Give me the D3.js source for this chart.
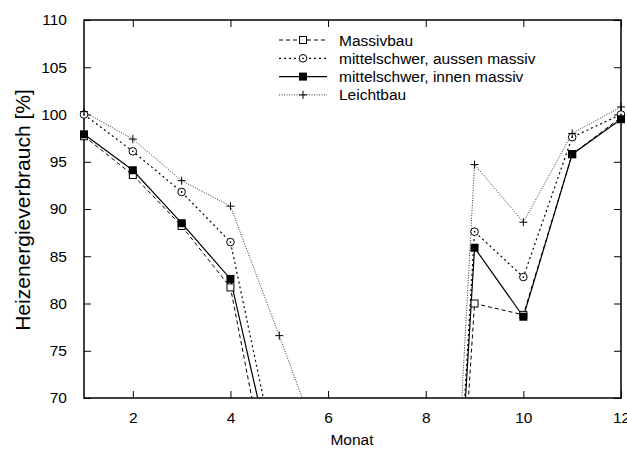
<!DOCTYPE html>
<html><head><meta charset="utf-8">
<script src="https://cdn.jsdelivr.net/npm/d3@7"></script>
<style>body{margin:0;background:#fff}svg{display:block}text{font-family:"Liberation Sans",Arial,sans-serif}</style>
</head><body>
<script>
const months = [1,2,3,4,5,6,7,8,9,10,11,12];
const massivbau = [97.7,93.6,88.2,81.7,55.0,20.0,5.0,0.0,80.0,78.8,95.8,99.7];
const aussenMassiv = [100.0,96.1,91.8,86.5,62.0,25.0,6.0,0.0,87.6,82.8,97.6,100.0];
const innenMassiv = [97.9,94.1,88.5,82.6,60.0,22.0,5.0,0.0,85.9,78.6,95.8,99.5];
const leichtbau = [100.3,97.4,93.0,90.3,76.6,62.6,20.0,0.0,94.7,88.6,98.0,100.8];
const seriesNames = ["Massivbau","mittelschwer, aussen massiv","mittelschwer, innen massiv","Leichtbau"];
const xTicks = [2,4,6,8,10,12];
const yTicks = [70,75,80,85,90,95,100,105,110];

const W=627,H=451, L=84, R=621, T=20, B=398;
const svg=d3.select("body").append("svg").attr("width",W).attr("height",H);
const x=d3.scaleLinear().domain([1,12]).range([L,R]);
const y=d3.scaleLinear().domain([70,110]).range([B,T]);

svg.append("defs").append("clipPath").attr("id","clip")
  .append("rect").attr("x",L).attr("y",T).attr("width",R-L).attr("height",B-T);

const tl=7;
svg.append("g").attr("transform",`translate(0,${B})`)
  .call(d3.axisBottom(x).tickValues(xTicks).tickSizeInner(-tl).tickSizeOuter(0).tickPadding(14).tickFormat(d3.format("d")))
  .call(g=>{g.select(".domain").remove();g.selectAll("text").attr("font-size",15.5).attr("fill","#000");});
svg.append("g").attr("transform",`translate(0,${T})`)
  .call(d3.axisTop(x).tickValues(xTicks).tickSizeInner(-tl).tickSizeOuter(0).tickFormat(""))
  .call(g=>g.select(".domain").remove());
svg.append("g").attr("transform",`translate(${L},0)`)
  .call(d3.axisLeft(y).tickValues(yTicks).tickSizeInner(-tl).tickSizeOuter(0).tickPadding(17).tickFormat(d3.format("d")))
  .call(g=>{g.select(".domain").remove();g.selectAll("text").attr("font-size",15.5).attr("fill","#000");});
svg.append("g").attr("transform",`translate(${R},0)`)
  .call(d3.axisRight(y).tickValues(yTicks).tickSizeInner(-tl).tickSizeOuter(0).tickFormat(""))
  .call(g=>g.select(".domain").remove());
svg.selectAll(".tick line").attr("stroke","#000");

svg.append("rect").attr("x",L).attr("y",T).attr("width",R-L).attr("height",B-T)
  .attr("fill","none").attr("stroke","#000").attr("stroke-width",1.5);

svg.append("text").attr("x",352).attr("y",445).attr("text-anchor","middle").attr("font-size",15.5).text("Monat");
svg.append("text").attr("transform","translate(30,210) rotate(-90)").attr("text-anchor","middle")
  .attr("font-size",21).text("Heizenergieverbrauch [%]");

const styles=[
  {data:massivbau, dash:"4,3", color:"#000", w:1, marker:"sq"},
  {data:aussenMassiv, dash:"2,3", color:"#000", w:1.2, marker:"circ"},
  {data:innenMassiv, dash:null, color:"#000", w:1.2, marker:"fsq"},
  {data:leichtbau, dash:"1,1.5", color:"#333", w:1, marker:"plus"}
];
const line=d3.line().x((d,i)=>x(months[i])).y(d=>y(d));
const plotG=svg.append("g").attr("clip-path","url(#clip)");

function drawMarker(g,type,cx,cy){
  if(type==="sq") g.append("rect").attr("x",cx-3.5).attr("y",cy-3.5).attr("width",7).attr("height",7).attr("fill","#fff").attr("stroke","#000").attr("stroke-width",1);
  else if(type==="fsq") g.append("rect").attr("x",cx-4).attr("y",cy-4).attr("width",8).attr("height",8).attr("fill","#000");
  else if(type==="circ"){ g.append("circle").attr("cx",cx).attr("cy",cy).attr("r",3.8).attr("fill","#fff").attr("stroke","#000").attr("stroke-width",1);
    g.append("circle").attr("cx",cx).attr("cy",cy).attr("r",0.9).attr("fill","#000");}
  else if(type==="plus") g.append("path").attr("d",`M${cx-4},${cy}H${cx+4}M${cx},${cy-4}V${cy+4}`).attr("stroke","#000").attr("stroke-width",1);
}

styles.forEach(s=>{
  plotG.append("path").attr("d",line(s.data)).attr("fill","none").attr("stroke",s.color)
    .attr("stroke-width",s.w).attr("stroke-dasharray",s.dash);
});
const mg=svg.append("g");
styles.forEach(s=>{
  s.data.forEach((v,i)=>{ if(v>=70 && v<=110) drawMarker(mg,s.marker,x(months[i]),y(v)); });
});

const lg=svg.append("g");
styles.forEach((s,i)=>{
  const yy=40+i*18.3;
  lg.append("line").attr("x1",279).attr("x2",327).attr("y1",yy).attr("y2",yy).attr("stroke",s.color)
    .attr("stroke-width",s.w).attr("stroke-dasharray",s.dash);
  drawMarker(lg,s.marker,303,yy);
  lg.append("text").attr("x",339).attr("y",yy+5.5).attr("font-size",15.5).text(seriesNames[i]);
});
</script>
</body></html>
